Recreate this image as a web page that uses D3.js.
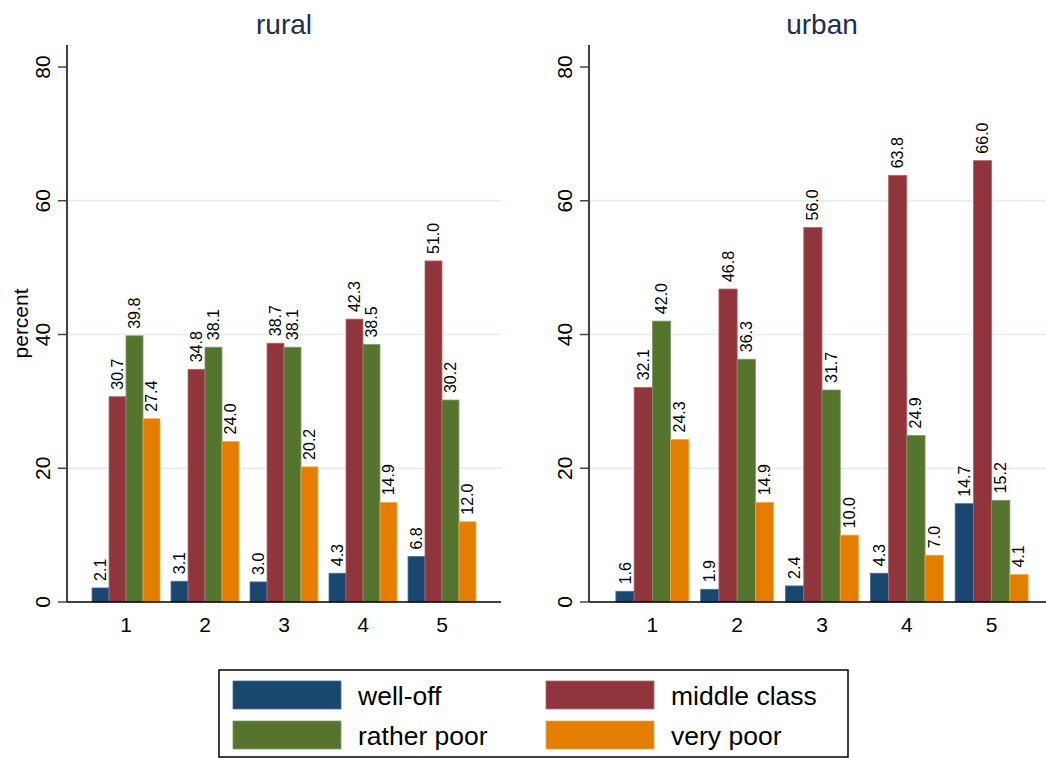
<!DOCTYPE html>
<html>
<head>
<meta charset="utf-8">
<script src="https://cdn.jsdelivr.net/npm/d3@7"></script>
<style>
  html, body { margin: 0; padding: 0; background: #fff; }
  svg { display: block; font-family: "Liberation Sans", Arial, sans-serif; }
</style>
</head>
<body>
<svg id="chart" width="1046" height="758"></svg>
<script>
// ---- data ----
const categories = ["1", "2", "3", "4", "5"];
const seriesNames = ["well-off", "middle class", "rather poor", "very poor"];
const panels = ["rural", "urban"];
const ruralWellOff     = [2.1, 3.1, 3.0, 4.3, 6.8];
const ruralMiddle      = [30.7, 34.8, 38.7, 42.3, 51.0];
const ruralRatherPoor  = [39.8, 38.1, 38.1, 38.5, 30.2];
const ruralVeryPoor    = [27.4, 24.0, 20.2, 14.9, 12.0];
const urbanWellOff     = [1.6, 1.9, 2.4, 4.3, 14.7];
const urbanMiddle      = [32.1, 46.8, 56.0, 63.8, 66.0];
const urbanRatherPoor  = [42.0, 36.3, 31.7, 24.9, 15.2];
const urbanVeryPoor    = [24.3, 14.9, 10.0, 7.0, 4.1];
const yTicks = [0, 20, 40, 60, 80];
const gridTicks = [20, 40, 60];

const colors = ["#1a476f", "#90353b", "#55752f", "#e37e00"];
const strokes = ["#4a6f92", "#b06a70", "#7f9866", "#f0a850"];

const panelData = {
  rural: [ruralWellOff, ruralMiddle, ruralRatherPoor, ruralVeryPoor],
  urban: [urbanWellOff, urbanMiddle, urbanRatherPoor, urbanVeryPoor]
};

const svg = d3.select("#chart");

const y = d3.scaleLinear().domain([0, 80]).range([602, 67]);
const yTopValue = 83.3;

const panelRanges = { rural: [67, 501], urban: [589, 1055] };

panels.forEach(p => {
  const [x0, x1] = panelRanges[p];
  const g = svg.append("g");
  const x = d3.scaleBand().domain(categories).range([x0, x1])
    .paddingInner(0.14).paddingOuter(0.317);
  const xs = d3.scaleBand().domain(seriesNames).range([0, x.bandwidth()]).padding(0);

  // grid
  g.selectAll("line.grid").data(gridTicks).join("line")
    .attr("x1", x0).attr("x2", x1)
    .attr("y1", d => y(d)).attr("y2", d => y(d))
    .attr("stroke", "#e4eced").attr("stroke-width", 1.5);

  // bars
  const data = panelData[p];
  seriesNames.forEach((s, si) => {
    const vals = data[si];
    g.selectAll("rect.s" + si).data(categories).join("rect")
      .attr("x", c => x(c) + xs(s))
      .attr("y", (c, i) => y(vals[i]))
      .attr("width", xs.bandwidth())
      .attr("height", (c, i) => y(0) - y(vals[i]))
      .attr("fill", colors[si])
      .attr("stroke", strokes[si]).attr("stroke-width", 0.8);
    g.selectAll("text.s" + si).data(categories).join("text")
      .attr("transform", (c, i) => {
        const cx = x(c) + xs(s) + xs.bandwidth() / 2;
        return `translate(${cx},${y(vals[i]) - 7}) rotate(-90)`;
      })
      .attr("dominant-baseline", "central")
      .attr("text-anchor", "start")
      .attr("font-size", 16)
      .attr("fill", "#000")
      .text((c, i) => vals[i].toFixed(1));
  });

  // y axis
  g.append("line").attr("x1", x0).attr("x2", x0)
    .attr("y1", y(0)).attr("y2", y(yTopValue))
    .attr("stroke", "#000").attr("stroke-width", 1.5);
  g.selectAll("line.ytick").data(yTicks).join("line")
    .attr("x1", x0 - 9).attr("x2", x0)
    .attr("y1", d => y(d)).attr("y2", d => y(d))
    .attr("stroke", "#444").attr("stroke-width", 1.5);
  g.selectAll("text.ylab").data(yTicks).join("text")
    .attr("transform", d => `translate(${x0 - 25},${y(d)}) rotate(-90)`)
    .attr("text-anchor", "middle").attr("dominant-baseline", "central")
    .attr("font-size", 21).attr("fill", "#000")
    .text(d => d);

  // x axis
  g.append("line").attr("x1", x0).attr("x2", x1)
    .attr("y1", y(0)).attr("y2", y(0))
    .attr("stroke", "#000").attr("stroke-width", 1.5);
  g.selectAll("text.xlab").data(categories).join("text")
    .attr("x", c => x(c) + x.bandwidth() / 2)
    .attr("y", 624)
    .attr("text-anchor", "middle").attr("dominant-baseline", "central")
    .attr("font-size", 21).attr("fill", "#000")
    .text(c => c);

  // title
  g.append("text").attr("x", (x0 + x1) / 2).attr("y", 34)
    .attr("text-anchor", "middle").attr("font-size", 28)
    .attr("fill", "#1e2d52").text(p);
});

// y axis title
svg.append("text")
  .attr("transform", `translate(20,${(y(0) + y(yTopValue)) / 2}) rotate(-90)`)
  .attr("text-anchor", "middle").attr("dominant-baseline", "central")
  .attr("font-size", 21).attr("fill", "#000").text("percent");

// legend
const lg = svg.append("g");
lg.append("rect").attr("x", 219).attr("y", 670).attr("width", 629).attr("height", 87)
  .attr("fill", "#fff").attr("stroke", "#000").attr("stroke-width", 1.5);
const legendCols = [233, 546];
const legendRows = [681, 721];
seriesNames.forEach((s, i) => {
  const cx = legendCols[i % 2], ry = legendRows[Math.floor(i / 2)];
  lg.append("rect").attr("x", cx).attr("y", ry).attr("width", 108).attr("height", 28)
    .attr("fill", colors[i]).attr("stroke", strokes[i]).attr("stroke-width", 0.8);
  lg.append("text").attr("x", cx + 125).attr("y", ry + 15)
    .attr("dominant-baseline", "central").attr("font-size", 26.5)
    .attr("fill", "#000").text(s);
});
</script>
</body>
</html>
